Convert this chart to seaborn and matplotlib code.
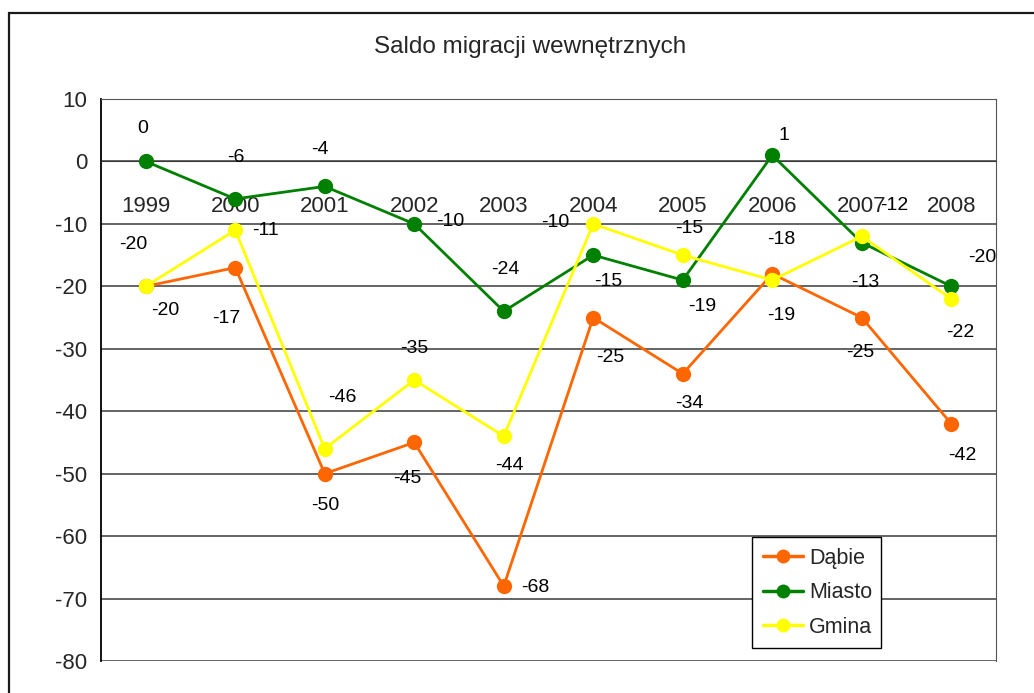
import matplotlib
matplotlib.use("Agg")
import matplotlib.pyplot as plt
import matplotlib.patches as patches
import numpy as np
import pandas as pd
import seaborn as sns

# data
years = ["1999", "2000", "2001", "2002", "2003", "2004", "2005", "2006", "2007", "2008"]
dabie = [-20, -17, -50, -45, -68, -25, -34, -18, -25, -42]
miasto = [0, -6, -4, -10, -24, -15, -19, 1, -13, -20]
gmina = [-20, -11, -46, -35, -44, -10, -15, -19, -12, -22]
series_names = ["Dąbie", "Miasto", "Gmina"]
colors = ["#FF6600", "#008000", "#FFFF00"]

# label offsets (pixels, x right / y up) roughly as Excel placed them
offsets = {
    "Dąbie": [(20, -24), (-9, -51), (0, -32), (-7, -36), (32, -1), (17, -40), (7, -30), (9, 34), (-2, -35), (11, -32)],
    "Miasto": [(-3, 33), (1, 41), (-5, 37), (36, 2), (2, 42), (15, -26), (19, -26), (12, 20), (3, -40), (31, 29)],
    "Gmina": [(-12, 42), (30, 0), (18, 51), (0, 31), (6, -29), (-38, 1), (6, 27), (9, -35), (32, 31), (9, -34)],
}

df = pd.DataFrame({
    "idx": list(range(len(years))) * 3,
    "value": dabie + miasto + gmina,
    "series": [n for n in series_names for _ in years],
})

sns.set_style("white")
plt.rcParams["font.family"] = ["Liberation Sans", "DejaVu Sans"]
plt.rcParams["axes.unicode_minus"] = False

fig = plt.figure(figsize=(10.34, 6.93), dpi=100)
ax = fig.add_axes([101 / 1034, 1 - 661 / 693, 895 / 1034, 562 / 693])

# outer chart border
fig.patches.append(patches.Rectangle((9 / 1034, -0.2), 1.2, 1.2 - 13 / 693,
                                     transform=fig.transFigure, fill=False,
                                     edgecolor="#1a1a1a", linewidth=1.6))

sns.lineplot(data=df, x="idx", y="value", hue="series", hue_order=series_names,
             palette=colors, marker="o", markersize=11, markeredgewidth=0,
             linewidth=2, ax=ax, legend=False, zorder=3)

for name, vals in zip(series_names, [dabie, miasto, gmina]):
    for i, v in enumerate(vals):
        dx, dy = offsets[name][i]
        ax.annotate(str(v), (i, v), xytext=(dx, dy), textcoords="offset pixels",
                    ha="center", va="center", fontsize=14, color="black", zorder=5)

ax.set_xlim(-0.5, 9.5)
ax.set_ylim(-80, 10)
ax.set_yticks(np.arange(-80, 11, 10))
for y in np.arange(-80, 11, 10):
    ax.axhline(y, color="#3a3a3a", linewidth=1.1, zorder=1)

ax.spines["bottom"].set_position(("data", 0))
ax.spines["bottom"].set_color("#3a3a3a")
ax.spines["top"].set_color("#555555")
ax.spines["right"].set_color("#555555")
ax.spines["left"].set_color("black")
ax.spines["left"].set_linewidth(1.3)

ax.set_xticks(np.arange(0.5, 9.5, 1))
ax.set_xticklabels([])
ax.set_xticks(range(len(years)), minor=True)
ax.set_xticklabels(years, minor=True, fontsize=16)
ax.tick_params(axis="x", which="major", direction="out", length=6, width=1, color="#3a3a3a")
ax.tick_params(axis="x", which="minor", length=0, pad=25)
ax.tick_params(axis="y", direction="out", length=6, width=1, labelsize=16, pad=4)
ax.set_xlabel("")
ax.set_ylabel("")

fig.text(530 / 1034, 1 - 47 / 693, "Saldo migracji wewnętrznych", ha="center", va="center", fontsize=17.5)

handles = [plt.Line2D([], [], color=c, marker="o", markersize=10, markeredgewidth=0, linewidth=2.5)
           for c in colors]
leg = ax.legend(handles, series_names, loc="upper left",
                bbox_to_anchor=(752 / 1034, 1 - 544 / 693, 129 / 1034, 0.01),
                bbox_transform=fig.transFigure, mode="expand", fontsize=15.5,
                frameon=True, fancybox=False, edgecolor="black", framealpha=1,
                handlelength=1.85, handletextpad=0.3, labelspacing=0.62,
                borderpad=0.5, borderaxespad=0)
leg.get_frame().set_linewidth(1)

fig.savefig("out.png", dpi=100)
